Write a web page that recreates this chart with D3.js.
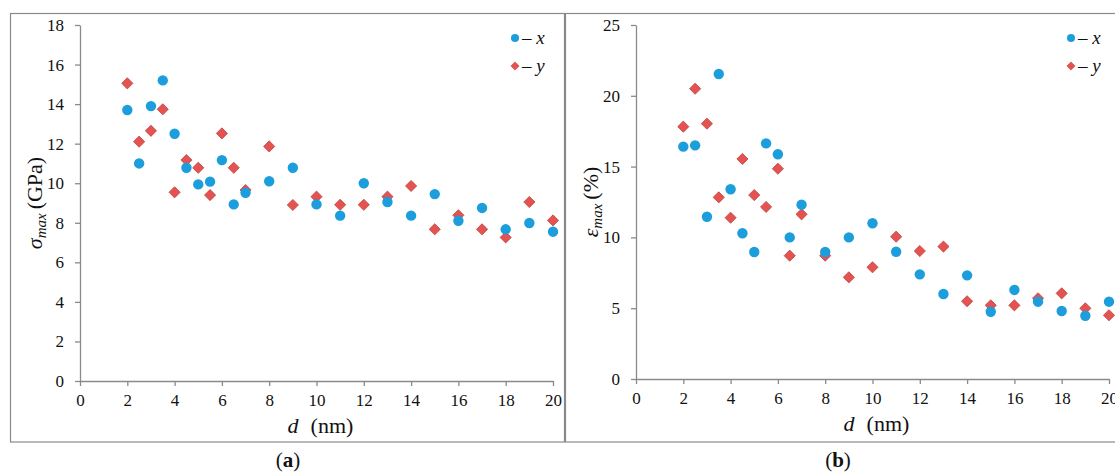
<!DOCTYPE html>
<html><head><meta charset="utf-8">
<script src="https://cdn.jsdelivr.net/npm/d3@7"></script>
<style>body{margin:0;background:#fff}svg{display:block}</style>
</head><body>
<svg id="c" width="1115" height="475"></svg>
<script>
const d = [2,2.5,3,3.5,4,4.5,5,5.5,6,6.5,7,8,9,10,11,12,13,14,15,16,17,18,19,20];
const sigmaX = [13.7,11.0,13.9,15.2,12.5,10.78,9.94,10.08,11.17,8.93,9.52,10.1,10.78,8.93,8.36,10.0,9.05,8.36,9.45,8.1,8.75,7.67,7.99,7.55];
const sigmaY = [15.05,12.1,12.65,13.74,9.54,11.17,10.78,9.4,12.52,10.78,9.66,11.86,8.9,9.32,8.91,8.91,9.32,9.86,7.67,8.38,7.67,7.26,9.05,8.12];
const epsX = [16.41,16.5,11.46,21.54,13.4,10.29,8.97,16.64,15.87,10.0,12.31,8.97,10.0,11.0,8.99,7.39,6.0,7.32,4.75,6.29,5.46,4.8,4.47,5.46];
const epsY = [17.82,20.5,18.03,12.83,11.39,15.54,12.99,12.15,14.85,8.71,11.63,8.71,7.18,7.89,10.05,9.04,9.35,5.49,5.2,5.2,5.7,6.05,4.99,4.5];
const xTicks = [0,2,4,6,8,10,12,14,16,18,20];
const yTicksA = [0,2,4,6,8,10,12,14,16,18];
const yTicksB = [0,5,10,15,20,25];

const svg = d3.select("#c");
const serif = "'Liberation Serif','Times New Roman',serif";
const blue = "#1C9EDC", red = "#E5524F", redStroke = "#B94A48", grey = "#8A8A8A";

svg.append("rect").attr("x",10.5).attr("y",13.5).attr("width",554).attr("height",428.5)
  .attr("fill","none").attr("stroke",grey).attr("stroke-width",1.2);
svg.append("rect").attr("x",565.5).attr("y",13.5).attr("width",560).attr("height",428.5)
  .attr("fill","none").attr("stroke",grey).attr("stroke-width",1.2);

function panel(cfg){
  const x = d3.scaleLinear().domain([0,20]).range([cfg.x0, cfg.x1]);
  const y = d3.scaleLinear().domain([0,cfg.ymax]).range([cfg.yb, cfg.yt]);
  const g = svg.append("g");
  const ya = g.append("g").attr("transform",`translate(${cfg.x0},0)`)
    .call(d3.axisLeft(y).tickValues(cfg.yTicks).tickSize(5).tickPadding(11).tickSizeOuter(0));
  const xa = g.append("g").attr("transform",`translate(0,${cfg.yb})`)
    .call(d3.axisBottom(x).tickValues(xTicks).tickSize(5).tickPadding(8).tickSizeOuter(0));
  [ya,xa].forEach(a=>{
    a.attr("font-family",null).attr("font-size",null);
    a.select(".domain").attr("stroke",grey).attr("stroke-width",1.3);
    a.selectAll(".tick line").attr("stroke",grey).attr("stroke-width",1.3);
    a.selectAll(".tick text").style("font-family",serif).style("font-size","17px").attr("fill","#111");
  });
  const sq = d3.symbol().type(d3.symbolSquare).size(62);
  g.selectAll(".ds").data(d).enter().append("path")
    .attr("d",sq).attr("transform",(v,i)=>`translate(${x(v)},${y(cfg.sy[i])}) rotate(45)`)
    .attr("fill",red).attr("stroke",redStroke).attr("stroke-width",0.8);
  g.selectAll(".cs").data(d).enter().append("circle")
    .attr("cx",v=>x(v)).attr("cy",(v,i)=>y(cfg.sx[i])).attr("r",5.2).attr("fill",blue);
  const xt = g.append("text").attr("x",(cfg.x0+cfg.x1)/2+4).attr("y",cfg.yb+52)
    .attr("text-anchor","middle").style("font-family",serif).style("font-size","22px").attr("fill","#111");
  xt.append("tspan").attr("font-style","italic").text("d");
  xt.append("tspan").attr("dx",12).text("(nm)");
  const yt = g.append("text").attr("transform",`translate(${cfg.x0-38},${(cfg.yt+cfg.yb)/2}) rotate(-90)`)
    .attr("text-anchor","middle").style("font-family",serif).style("font-size","22px").attr("fill","#111");
  yt.append("tspan").attr("font-style","italic").text(cfg.sym);
  yt.append("tspan").attr("font-style","italic").style("font-size","15px").attr("dy",4).text("max");
  yt.append("tspan").attr("dy",-4).attr("dx",4).text(cfg.unit);
  const lx = cfg.x1 - 38;
  g.append("circle").attr("cx",lx).attr("cy",cfg.yt+13).attr("r",4).attr("fill",blue);
  g.append("path").attr("d",d3.symbol().type(d3.symbolSquare).size(34))
    .attr("transform",`translate(${lx},${cfg.yt+41}) rotate(45)`).attr("fill",red).attr("stroke",redStroke).attr("stroke-width",0.6);
  [["x",13],["y",41]].forEach(([s,dy])=>{
    const t = g.append("text").attr("x",lx+7).attr("y",cfg.yt+dy+6)
      .style("font-family",serif).style("font-size","19px").attr("fill","#111");
    t.append("tspan").text("– ");
    t.append("tspan").attr("font-style","italic").text(s);
  });
  const pl = svg.append("text").attr("x",cfg.labelX).attr("y",467).attr("text-anchor","middle")
    .style("font-family",serif).style("font-size","21px").attr("fill","#111");
  pl.append("tspan").text("(");
  pl.append("tspan").attr("font-weight","bold").text(cfg.label);
  pl.append("tspan").text(")");
}

panel({x0:80,x1:553,yt:25,yb:381,ymax:18,yTicks:yTicksA,sx:sigmaX,sy:sigmaY,sym:"σ",unit:"(GPa)",label:"a",labelX:288});
panel({x0:636,x1:1109,yt:25,yb:379,ymax:25,yTicks:yTicksB,sx:epsX,sy:epsY,sym:"ε",unit:"(%)",label:"b",labelX:838});
</script>
</body></html>
